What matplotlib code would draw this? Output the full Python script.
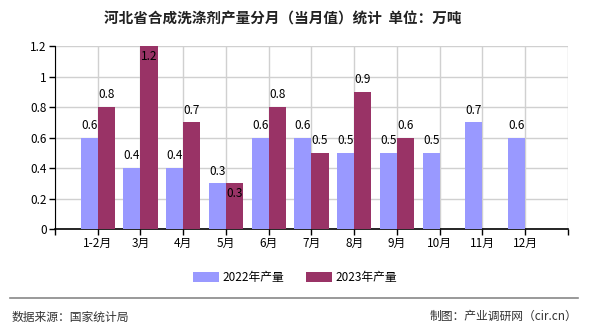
import numpy as np
import matplotlib.pyplot as plt

plt.rcParams['font.family'] = ['Noto Sans CJK SC', 'DejaVu Sans']

# data
months = ['1-2月', '3月', '4月', '5月', '6月', '7月', '8月', '9月', '10月', '11月', '12月']
prod_2022 = [0.6, 0.4, 0.4, 0.3, 0.6, 0.6, 0.5, 0.5, 0.5, 0.7, 0.6]
prod_2023 = [0.8, 1.2, 0.7, 0.3, 0.8, 0.5, 0.9, 0.6]
yticks = [0, 0.2, 0.4, 0.6, 0.8, 1.0, 1.2]
ytick_labels = ['0', '0.2', '0.4', '0.6', '0.8', '1', '1.2']

c22 = '#9999ff'
c23 = '#993366'

fig = plt.figure(figsize=(5.9, 3.3), dpi=100)
ax = fig.add_axes([0.0932, 0.306, 0.8695, 0.5546])

x = np.arange(len(months))
w = 0.4
x23 = x[:len(prod_2023)]
b1 = ax.bar(x - w / 2, prod_2022, width=w, color=c22, label='2022年产量', zorder=3)
b2 = ax.bar(x23 + w / 2, prod_2023, width=w, color=c23, label='2023年产量', zorder=3)

# value labels
for xi, v in zip(x, prod_2022):
    ax.annotate(f'{v:g}', (xi - w / 2, v), xytext=(0, 4), textcoords='offset points',
                ha='center', va='bottom', fontsize=8.5, zorder=4)
for xi, v in zip(x23, prod_2023):
    if v >= 1.15:
        ax.annotate(f'{v:g}', (xi + w / 2, v), xytext=(0, -3), textcoords='offset points',
                    ha='center', va='top', fontsize=8.5, zorder=4)
    elif xi == 3:
        ax.annotate(f'{v:g}', (xi + w / 2, v), xytext=(0, -3), textcoords='offset points',
                    ha='center', va='top', fontsize=8.5, zorder=4)
    else:
        ax.annotate(f'{v:g}', (xi + w / 2, v), xytext=(0, 4), textcoords='offset points',
                    ha='center', va='bottom', fontsize=8.5, zorder=4)

ax.set_xlim(-1, len(months))
ax.set_ylim(0, 1.2)
ax.set_xticks(np.arange(-1, len(months) + 1))
ax.set_xticklabels([''] + months + [''], fontsize=8.5)
ax.set_yticks(yticks)
ax.set_yticklabels(ytick_labels, fontsize=8.5)
ax.tick_params(axis='both', length=4, width=1, color='black', pad=2)
ax.grid(True, color='#d0d0d0', linewidth=1, zorder=0)
ax.set_axisbelow(True)
for s in ['top', 'right']:
    ax.spines[s].set_visible(False)
ax.spines['left'].set_color('black')
ax.spines['bottom'].set_color('black')
ax.spines['bottom'].set_linewidth(1.2)

fig.text(0.48, 0.945, '河北省合成洗涤剂产量分月（当月值）统计  单位：万吨',
         ha='center', va='center', fontsize=10.5, fontweight='bold', color='#222222')

fig.legend(handles=[b1, b2], loc='center', bbox_to_anchor=(0.5, 0.16), ncol=2,
           frameon=False, fontsize=8.5, handlelength=2.2, handleheight=0.9,
           columnspacing=1.8, handletextpad=0.3)

fig.add_artist(plt.Line2D([0.017, 0.98], [0.097, 0.097], color='#888888', linewidth=1.2))
fig.text(0.02, 0.04, '数据来源：国家统计局', ha='left', va='center', fontsize=8.5, color='#333333')
fig.text(0.978, 0.04, '制图：产业调研网（cir.cn）', ha='right', va='center', fontsize=8.5, color='#333333')

fig.savefig('out.png', dpi=100)
